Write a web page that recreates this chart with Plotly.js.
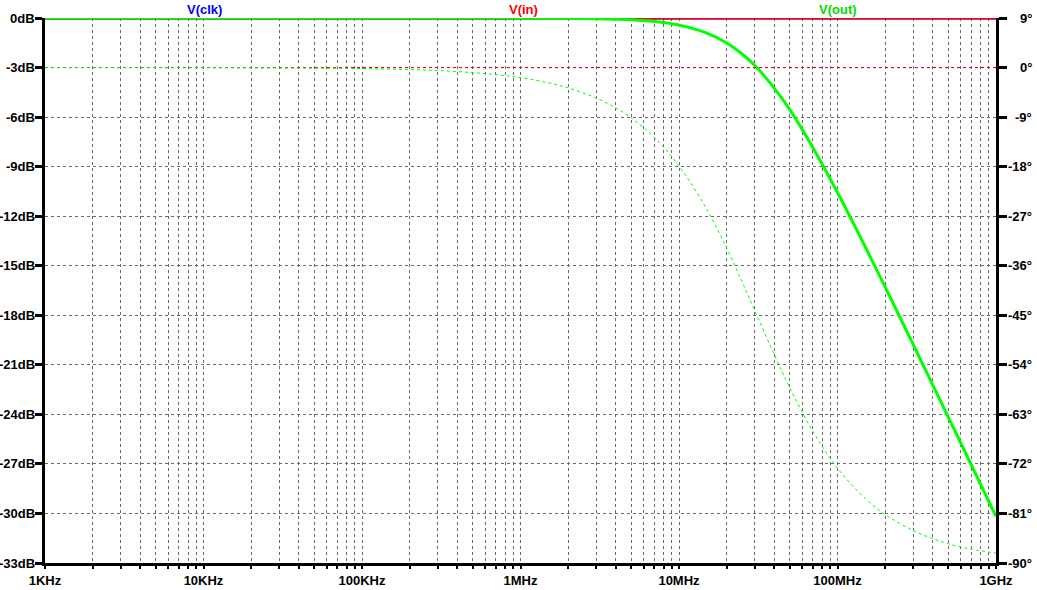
<!DOCTYPE html>
<html>
<head>
<meta charset="utf-8">
<script src="https://cdn.plot.ly/plotly-3.0.1.min.js"></script>
<style>html,body{margin:0;padding:0;background:#fff;}#chart{width:1037px;height:590px;}</style>
</head>
<body>
<div id="chart"></div>
<script>
// Frequencies (Hz)
const freq = [1e3, 1e4, 1e5, 2e5, 3e5, 5e5, 7e5, 1e6, 1.5e6, 2e6, 3e6, 4e6, 5e6, 7e6, 1e7, 1.5e7, 2e7, 2.5e7, 3e7, 4e7, 5e7, 7e7, 1e8, 1.5e8, 2e8, 3e8, 4e8, 5e8, 7e8, 1e9];
// V(out) magnitude (dB)
const outMag = [0, 0, 0, 0, 0, 0, 0, -0.01, -0.01, -0.02, -0.04, -0.07, -0.11, -0.22, -0.43, -0.91, -1.51, -2.18, -2.86, -4.26, -5.55, -7.85, -10.57, -13.88, -16.3, -19.76, -22.24, -24.17, -27.08, -30.18];
// V(out) phase (deg)
const outPhase = [0, -0.02, -0.18, -0.37, -0.55, -0.92, -1.29, -1.85, -2.77, -3.69, -5.53, -7.35, -9.16, -12.7, -17.9, -25.8, -32.8, -38.9, -44.1, -52.2, -58.2, -66.1, -72.8, -78.3, -81.2, -84.1, -85.6, -86.5, -87.5, -88.2];
// V(in) / V(clk): flat
const flatFreq = [1e3, 1e9];
const inMag = [0, 0];
const inPhase = [0, 0];
const clkMag = [0, 0];
const clkPhase = [0, 0];

// Axis ticks
const decadeVals = [1e3, 1e4, 1e5, 1e6, 1e7, 1e8, 1e9];
const decadeText = ['1KHz', '10KHz', '100KHz', '1MHz', '10MHz', '100MHz', '1GHz'];
const dbVals = [0, -3, -6, -9, -12, -15, -18, -21, -24, -27, -30, -33];
const dbText = ['0dB', '-3dB', '-6dB', '-9dB', '-12dB', '-15dB', '-18dB', '-21dB', '-24dB', '-27dB', '-30dB', '-33dB'];
const degVals = [9, 0, -9, -18, -27, -36, -45, -54, -63, -72, -81, -90];
const degText = ['9°', '0°', '-9°', '-18°', '-27°', '-36°', '-45°', '-54°', '-63°', '-72°', '-81°', '-90°'];

const minorVals = [];
for (let d = 3; d < 9; d++) for (let m = 2; m <= 9; m++) minorVals.push(m * Math.pow(10, d));

const BLUE = '#0000ff', RED = '#ff0000', GREEN = '#00ff00';
const dash = '3px,3px';
const FAM = 'Liberation Sans, Arial, sans-serif';

const traces = [
  {x: flatFreq, y: clkMag, mode: 'lines', line: {color: BLUE, width: 3}, name: 'V(clk)'},
  {x: flatFreq, y: clkPhase, yaxis: 'y2', mode: 'lines', line: {color: BLUE, width: 1, dash: dash}, name: 'V(clk) ph'},
  {x: flatFreq, y: inMag, mode: 'lines', line: {color: RED, width: 3}, name: 'V(in)'},
  {x: flatFreq, y: inPhase, yaxis: 'y2', mode: 'lines', line: {color: RED, width: 1, dash: dash}, name: 'V(in) ph'},
  {x: freq, y: outMag, mode: 'lines', line: {color: GREEN, width: 3, shape: 'spline'}, name: 'V(out)'},
  {x: freq, y: outPhase, yaxis: 'y2', mode: 'lines', line: {color: GREEN, width: 1, dash: dash, shape: 'spline'}, name: 'V(out) ph'}
];

const tickFont = {family: FAM, size: 13, color: '#000', weight: 'bold'};
const gridCol = '#6a6a6a';

// Left dB labels, right-aligned next to the ticks
const annotations = dbVals.map((v, i) => ({
  text: dbText[i], xref: 'paper', yref: 'y', x: -0.0098, y: v,
  xanchor: 'right', yanchor: 'middle', showarrow: false, font: tickFont, borderpad: 0
}));
// Right phase labels, right-aligned (as in the reference)
degVals.forEach((v, i) => annotations.push({
  text: degText[i], xref: 'paper', yref: 'y2', x: 1.0395, y: v,
  xanchor: 'right', yanchor: 'middle', showarrow: false, font: tickFont
}));
annotations.push(
  {text: 'V(clk)', xref: 'paper', yref: 'paper', x: 0.168, y: 1.0165, xanchor: 'center', yanchor: 'middle', showarrow: false, font: {family: FAM, size: 13, color: BLUE, weight: 'bold'}},
  {text: 'V(in)', xref: 'paper', yref: 'paper', x: 0.503, y: 1.0165, xanchor: 'center', yanchor: 'middle', showarrow: false, font: {family: FAM, size: 13, color: RED, weight: 'bold'}},
  {text: 'V(out)', xref: 'paper', yref: 'paper', x: 0.834, y: 1.0165, xanchor: 'center', yanchor: 'middle', showarrow: false, font: {family: FAM, size: 13, color: '#00dd00', weight: 'bold'}}
);

const layout = {
  width: 1037, height: 590,
  margin: {l: 45, r: 41, t: 18, b: 27, pad: 0},
  paper_bgcolor: '#fff', plot_bgcolor: '#fff',
  showlegend: false,
  xaxis: {
    type: 'log', range: [3, 9],
    tickmode: 'array', tickvals: decadeVals, ticktext: decadeText,
    ticks: 'outside', ticklen: 3, tickwidth: 2, tickcolor: '#000',
    showline: true, linewidth: 3, linecolor: '#000',
    showgrid: true, gridcolor: gridCol, gridwidth: 1, griddash: dash,
    zeroline: false, tickfont: tickFont,
    minor: {tickmode: 'array', tickvals: minorVals, ticks: 'outside', ticklen: 3, tickwidth: 2, tickcolor: '#000',
            showgrid: true, gridcolor: gridCol, gridwidth: 1, griddash: dash}
  },
  yaxis: {
    range: [-33, 0], tickmode: 'array', tickvals: dbVals, ticktext: dbText,
    showticklabels: false,
    ticks: 'outside', ticklen: 7, tickwidth: 3, tickcolor: '#000',
    showline: true, linewidth: 3, linecolor: '#000',
    showgrid: true, gridcolor: gridCol, gridwidth: 1, griddash: dash,
    zeroline: false
  },
  yaxis2: {
    overlaying: 'y', side: 'right', anchor: 'x',
    range: [-90, 9], tickmode: 'array', tickvals: degVals, ticktext: degText,
    showticklabels: false,
    ticks: 'outside', ticklen: 8, tickwidth: 3, tickcolor: '#000',
    showline: true, linewidth: 3, linecolor: '#000',
    showgrid: false, zeroline: false
  },
  annotations: annotations
};

Plotly.newPlot('chart', traces, layout, {staticPlot: true, displayModeBar: false});
</script>
</body>
</html>
